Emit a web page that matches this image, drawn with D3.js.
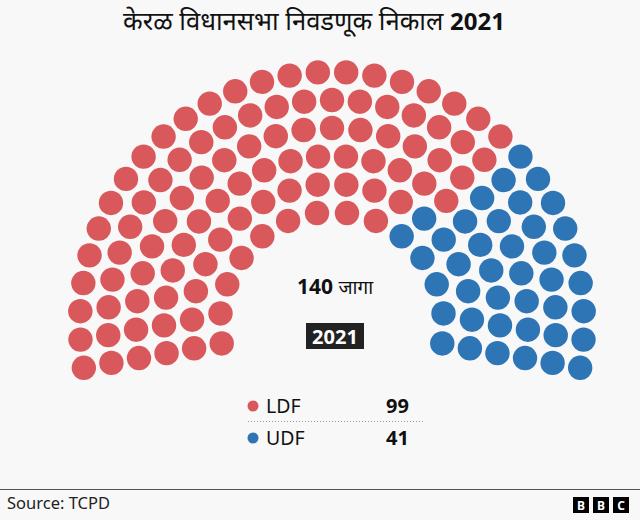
<!DOCTYPE html>
<html>
<head>
<meta charset="utf-8">
<script src="https://cdn.jsdelivr.net/npm/d3@7"></script>
<style>
  body { margin: 0; background: #f8f8f8; }
  svg { display: block; font-family: "Noto Sans", "Open Sans", sans-serif; }
</style>
</head>
<body>
<div id="chart"></div>
<script>
// election result, Kerala assembly 2021
var parties = ["LDF", "UDF"];
var partySeats = [99, 41];
var partyColors = ["#d9585b", "#2e75b6"];
var totalSeats = 140;
var ringCount = 6;
// UDF seats in each ring, inner ring first (as the picture splits them)
var udfPerRing = [5, 6, 6, 7, 8, 9];
var titleText = "केरळ विधानसभा निवडणूक निकाल";
var titleYear = "2021";
var seatsLabel = "जागा";
var yearLabel = "2021";
var sourceText = "Source: TCPD";

var width = 640,
    height = 520,
    cx = 332,
    cy = 324,
    dotR = 12.2;

var svg = d3.select("#chart")
  .append("svg")
  .attr("width", width)
  .attr("height", height);

svg.append("rect")
  .attr("width", width)
  .attr("height", height)
  .attr("fill", "#f8f8f8");

var title = svg.append("text")
  .attr("x", 314)
  .attr("y", 30)
  .attr("text-anchor", "middle")
  .style("fill", "#111");
title.append("tspan")
  .style("font-size", "25.6px")
  .text(titleText + " ");
title.append("tspan")
  .style("font-size", "24px")
  .style("font-weight", "bold")
  .text(titleYear);

// rings of the hemicycle
var radius = d3.scaleLinear()
  .domain([0, ringCount - 1])
  .range([112, 252]);

var rings = d3.range(ringCount);
var radSum = d3.sum(rings, function (i) { return radius(i); });
var perRing = rings.map(function (i) {
  return Math.round(totalSeats * radius(i) / radSum);
});
// fix rounding so it adds up
perRing[ringCount - 1] += totalSeats - d3.sum(perRing);

var seats = [];
rings.forEach(function (ring) {
  var n = perRing[ring];
  var angle = d3.scaleLinear()
    .domain([0, n - 1])
    .range([190 * Math.PI / 180, -10 * Math.PI / 180]);
  d3.range(n).forEach(function (k) {
    seats.push({
      ring: ring,
      a: angle(k),
      party: k < n - udfPerRing[ring] ? 0 : 1
    });
  });
});

svg.append("g")
  .selectAll("circle")
  .data(seats)
  .join("circle")
  .attr("cx", function (d) { return cx + radius(d.ring) * Math.cos(d.a); })
  .attr("cy", function (d) { return cy - radius(d.ring) * Math.sin(d.a); })
  .attr("r", dotR)
  .attr("fill", function (d) { return partyColors[d.party]; });

// middle labels
var mid = svg.append("text")
  .attr("x", 335)
  .attr("y", 294)
  .attr("text-anchor", "middle")
  .style("fill", "#111");
mid.append("tspan")
  .style("font-size", "21px")
  .style("font-weight", "bold")
  .text(totalSeats + " ");
mid.append("tspan")
  .style("font-size", "19px")
  .text(seatsLabel);

svg.append("rect")
  .attr("x", 306)
  .attr("y", 323)
  .attr("width", 58)
  .attr("height", 26)
  .attr("fill", "#222");

svg.append("text")
  .attr("x", 335)
  .attr("y", 343.5)
  .attr("text-anchor", "middle")
  .style("font-size", "20px")
  .style("font-weight", "bold")
  .style("fill", "#fff")
  .text(yearLabel);

// legend
var legendY = d3.scalePoint()
  .domain(parties)
  .range([406, 438]);

var legend = svg.append("g")
  .selectAll("g")
  .data(parties)
  .join("g")
  .attr("transform", function (d) { return "translate(0," + legendY(d) + ")"; });

legend.append("circle")
  .attr("cx", 253)
  .attr("r", 5.5)
  .attr("fill", function (d, i) { return partyColors[i]; });

legend.append("text")
  .attr("x", 266)
  .attr("y", 7)
  .style("font-size", "19.5px")
  .style("fill", "#111")
  .text(function (d) { return d; });

legend.append("text")
  .attr("x", 409)
  .attr("y", 7)
  .attr("text-anchor", "end")
  .style("font-size", "20px")
  .style("font-weight", "bold")
  .style("fill", "#111")
  .text(function (d, i) { return partySeats[i]; });

svg.append("line")
  .attr("x1", 248)
  .attr("x2", 423)
  .attr("y1", 421.5)
  .attr("y2", 421.5)
  .attr("stroke", "#999")
  .attr("stroke-dasharray", "1,2");

// footer
svg.append("line")
  .attr("x1", 0)
  .attr("x2", width)
  .attr("y1", 489.5)
  .attr("y2", 489.5)
  .attr("stroke", "#555")
  .attr("stroke-width", 1.2);

svg.append("text")
  .attr("x", 7)
  .attr("y", 509)
  .style("font-size", "16.5px")
  .style("fill", "#222")
  .text(sourceText);

var bbc = svg.append("g")
  .selectAll("g")
  .data(["B", "B", "C"])
  .join("g")
  .attr("transform", function (d, i) { return "translate(" + (573 + i * 20) + ",497)"; });

bbc.append("rect")
  .attr("width", 16)
  .attr("height", 16)
  .attr("fill", "#000");

bbc.append("text")
  .attr("x", 8)
  .attr("y", 12.5)
  .attr("text-anchor", "middle")
  .style("font-size", "12px")
  .style("font-weight", "bold")
  .style("fill", "#fff")
  .text(function (d) { return d; });
</script>
</body>
</html>
